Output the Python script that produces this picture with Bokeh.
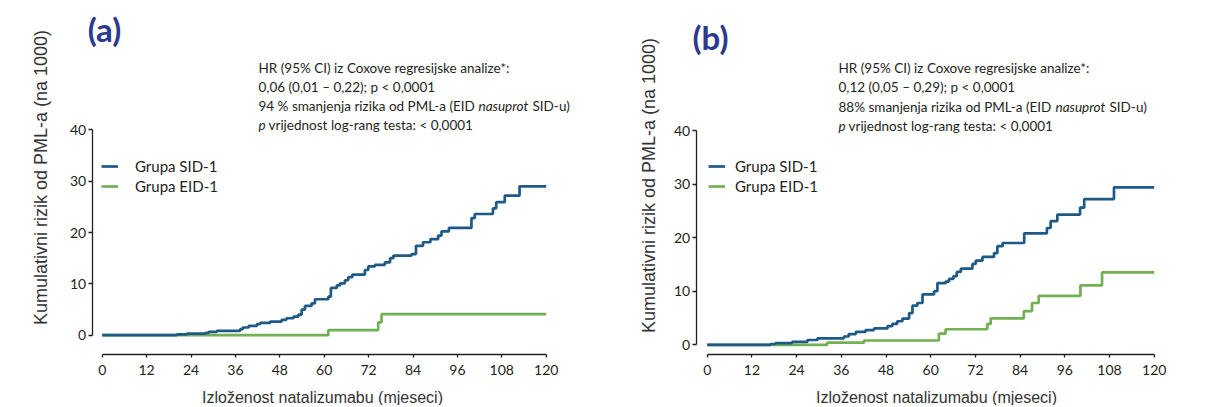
import numpy as np
from bokeh.plotting import figure
from bokeh.models import Range1d, FixedTicker, Label, Legend, LegendItem
from bokeh.layouts import row
from bokeh.embed import file_html
from bokeh.resources import INLINE

# ---------------- data ----------------
x_ticks = [0, 12, 24, 36, 48, 60, 72, 84, 96, 108, 120]
y_ticks = [0, 10, 20, 30, 40]

a_sid_t = [0, 20.2, 22.9, 27.9, 28.8, 31, 37.3, 38, 39.6, 41.8, 42.7, 45.4, 48.5, 49.8, 51.7, 53,
           53.9, 54.8, 56.6, 57.5, 61.1, 61.8, 63.4, 64.3, 65.6, 66.5, 67.6, 71, 71.9, 73.7, 76.4,
           77.8, 78.7, 83.6, 84.8, 86.7, 88.7, 90.8, 91.7, 93.7, 99.8, 100.7, 105.6, 106.5, 108.8,
           112.8, 120]
a_sid_v = [0, 0.15, 0.3, 0.45, 0.65, 0.85, 1.2, 1.5, 1.8, 2.15, 2.4, 2.65, 3.0, 3.3, 3.6, 4.0,
           5.0, 5.7, 6.2, 7.0, 7.5, 9.2, 9.7, 10.1, 10.7, 11.3, 11.8, 12.7, 13.4, 13.7, 14.2,
           15.0, 15.5, 15.8, 17.4, 18.1, 18.7, 19.4, 20.2, 20.9, 22.8, 23.6, 24.7, 25.9, 27.2,
           29.0, 29.0]
a_eid_t = [0, 61.1, 74.6, 75.5, 120]
a_eid_v = [0, 1.0, 2.5, 4.1, 4.1]

b_sid_t = [0, 17, 18.3, 22.8, 26.9, 29.6, 36.7, 38, 39.9, 42.5, 44.8, 48.4, 49.7, 51, 52.4, 54.2,
           55.1, 56.4, 57.8, 60.9, 61.8, 64, 64.9, 66.1, 67, 68.1, 71.2, 72.1, 73.9, 77, 77.9,
           79.3, 85.1, 91.2, 92.2, 94, 100.1, 101.2, 109.2, 120]
b_sid_v = [0, 0.15, 0.3, 0.55, 0.9, 1.2, 1.55, 2.0, 2.4, 2.75, 3.05, 3.5, 3.9, 4.4, 4.9, 5.9,
           7.3, 7.8, 9.4, 10.0, 11.5, 11.8, 12.3, 12.8, 13.6, 14.2, 15.1, 15.7, 16.4, 17.1, 18.4,
           19.0, 20.8, 21.8, 23.1, 24.3, 25.6, 27.2, 29.4, 29.4]
b_eid_t = [0, 32.2, 42.1, 62.2, 64, 75.2, 76.1, 85, 87.2, 89, 100.2, 106, 120]
b_eid_v = [0, 0.4, 0.8, 2.1, 2.9, 3.9, 4.95, 6.3, 7.8, 9.15, 11.1, 13.5, 13.5]

series_labels = ["Grupa SID-1", "Grupa EID-1"]
x_title = "Izloženost natalizumabu (mjeseci)"
y_title = "Kumulativni rizik od PML-a (na 1000)"
a_lines = ["HR (95% CI) iz Coxove regresijske analize*:",
           "0,06 (0,01 – 0,22); p < 0,0001",
           "94 % smanjenja rizika od PML-a (EID", "nasuprot", "SID-u)",
           "p", "vrijednost log-rang testa: < 0,0001"]
b_lines = ["HR (95% CI) iz Coxove regresijske analize*:",
           "0,12 (0,05 – 0,29); p < 0,0001",
           "88% smanjenja rizika od PML-a (EID", "nasuprot", "SID-u)",
           "p", "vrijednost log-rang testa: < 0,0001"]

# ---------------- style ----------------
BLUE = "#1f5a87"
GREEN = "#71b053"
DARK = "#231f20"
TAG_BLUE = "#2b3990"
FUT = "Lato"
SANS = "Liberation Sans"
W, H = 604, 405


def make_panel(tag, sid_t, sid_v, eid_t, eid_v, lines, cfg):
    px0 = cfg["px0"]               # page x of the figure's left edge
    x0, sx = cfg["x0"], cfg["sx"]  # canvas px of month 0, px per month
    y0, sy = cfg["y0"], cfg["sy"]  # canvas px (from top) of value 0, px per unit
    xr = (-x0 / sx, (W - x0) / sx)
    yr = (-(H - y0) / sy, y0 / sy)

    def X(page_x):
        return (page_x - px0 - x0) / sx

    def Y(page_y):
        return (y0 - page_y) / sy

    p = figure(width=W, height=H, output_backend="svg", toolbar_location=None,
               x_range=Range1d(*xr), y_range=Range1d(*yr),
               min_border_left=0, min_border_right=0,
               min_border_top=0, min_border_bottom=0)
    p.outline_line_color = None
    p.grid.visible = False
    p.background_fill_color = "white"
    p.border_fill_color = "white"

    for ax in (p.xaxis[0], p.yaxis[0]):
        ax.axis_line_color = DARK
        ax.axis_line_width = 1.3
        ax.major_tick_line_color = DARK
        ax.major_tick_line_width = 1.3
        ax.major_tick_in = 0
        ax.minor_tick_line_color = None
        ax.major_label_text_font = FUT
        ax.major_label_text_font_size = "14px"
        ax.major_label_text_color = DARK
    p.xaxis.ticker = FixedTicker(ticks=x_ticks)
    p.yaxis.ticker = FixedTicker(ticks=y_ticks)
    p.xaxis.bounds = (0, 120)
    p.yaxis.bounds = (0, 40)
    p.xaxis.fixed_location = Y(354)
    p.yaxis.fixed_location = X(cfg["yaxis_px"])
    p.xaxis.major_tick_out = 3
    p.yaxis.major_tick_out = 4
    p.xaxis.major_label_standoff = 7
    p.yaxis.major_label_standoff = 2

    r_eid = p.step(eid_t, eid_v, mode="after", line_color=GREEN, line_width=2.7)
    r_sid = p.step(sid_t, sid_v, mode="after", line_color=BLUE, line_width=2.7)

    legend = Legend(items=[LegendItem(label=series_labels[0], renderers=[r_sid]),
                           LegendItem(label=series_labels[1], renderers=[r_eid])],
                    location=cfg["leg"], glyph_width=17, glyph_height=16, label_height=16,
                    spacing=2, padding=0, margin=0, label_standoff=cfg["ls"],
                    label_text_font=FUT, label_text_font_size="15px",
                    label_text_color=DARK, border_line_color=None,
                    background_fill_alpha=0)
    p.add_layout(legend)

    # panel tag
    p.add_layout(Label(x=X(cfg["tag"][0]), y=Y(cfg["tag"][1]), text=tag, text_font=FUT,
                       text_font_style="bold", text_font_size="33px", text_color=TAG_BLUE,
                       text_align="center", text_baseline="middle"))
    # axis titles
    p.add_layout(Label(x=X(cfg["ylab"][0]), y=Y(cfg["ylab"][1]), text=y_title, angle=np.pi / 2,
                       text_font=SANS, text_font_size="18px", text_color="#333333",
                       text_align="center", text_baseline="middle"))
    p.add_layout(Label(x=X(cfg["xlab"][0]), y=Y(cfg["xlab"][1]), text=x_title,
                       text_font=SANS, text_font_size="16px", text_color="#333333",
                       text_align="center", text_baseline="middle"))
    # annotation block
    tx = cfg["tx"]
    ys = cfg["ty"]
    segs = [(lines[0], tx, ys[0], "normal"),
            (lines[1], tx, ys[1], "normal"),
            (lines[2], tx, ys[2], "normal"),
            (lines[3], cfg["it"][0], ys[2], "italic"),
            (lines[4], cfg["it"][1], ys[2], "normal"),
            (lines[5], tx, ys[3], "italic"),
            (lines[6], cfg["it"][2], ys[3], "normal")]
    for txt, px, py, style in segs:
        p.add_layout(Label(x=X(px), y=Y(py), text=txt, text_font=FUT, text_font_style=style,
                           text_font_size="13.5px", text_color=DARK,
                           text_align="left", text_baseline="middle"))
    return p


cfg_a = dict(px0=0, x0=101.7, sx=3.7, y0=334.7, sy=5.135, yaxis_px=91.7,
             leg=(101, 210), ls=17, tag=(104, 28), ylab=(40, 177), xlab=(322, 397),
             tx=258, ty=(67, 86, 105, 124), it=(478, 532, 268))
cfg_b = dict(px0=604, x0=102.7, sx=3.725, y0=344.3, sy=5.3575, yaxis_px=695.7,
             leg=(104, 210), ls=10, tag=(710, 36), ylab=(648, 185), xlab=(936, 397),
             tx=838, ty=(67, 86, 106, 125), it=(1055, 1109, 848))

pa = make_panel("(a)", a_sid_t, a_sid_v, a_eid_t, a_eid_v, a_lines, cfg_a)
pb = make_panel("(b)", b_sid_t, b_sid_v, b_eid_t, b_eid_v, b_lines, cfg_b)

layout = row(pa, pb)
open("out.html", "w").write(file_html(layout, INLINE))
